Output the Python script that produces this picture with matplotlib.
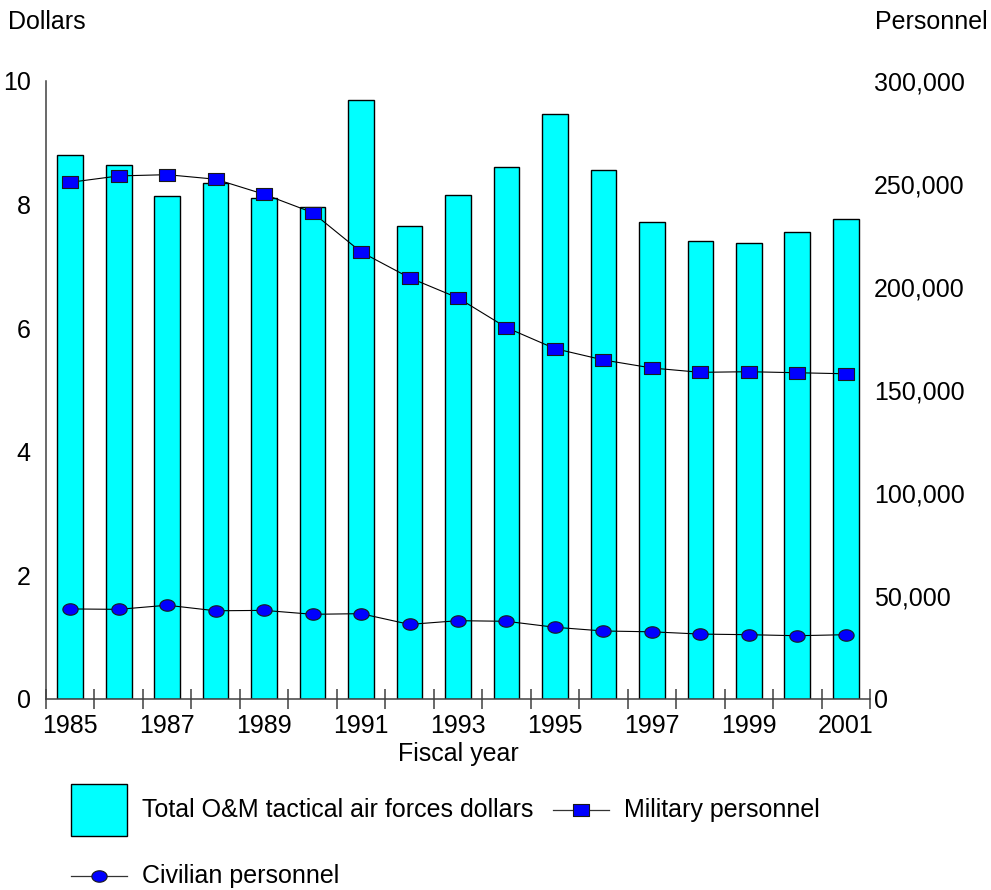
import numpy as np
import matplotlib.pyplot as plt
from matplotlib.patches import Patch
from matplotlib.lines import Line2D
from matplotlib.legend_handler import HandlerLine2D
from matplotlib.ticker import FuncFormatter

plt.rcParams['font.family'] = ['Liberation Sans', 'DejaVu Sans']

# Datos
years = list(range(1985, 2002))
dollars = [8.80, 8.64, 8.13, 8.35, 8.10, 7.96, 9.68, 7.65, 8.15, 8.61,
           9.46, 8.56, 7.71, 7.41, 7.37, 7.55, 7.77]
military = [250700, 253800, 254400, 252200, 244900, 236000, 216900, 204400,
            194600, 180200, 170000, 164500, 160600, 158500, 158800, 158300, 157800]
civilian = [43700, 43500, 45500, 42800, 43000, 41100, 41400, 36200, 38000,
            37700, 34800, 33000, 32600, 31500, 31200, 30700, 31200]

year_labels = [str(y) if (y - 1985) % 2 == 0 else '' for y in years]

FS = 18
AXC = '#404040'

# marcadores rectangulares y elípticos (más anchos que altos)
rect = [(-1, -0.78), (1, -0.78), (1, 0.78), (-1, 0.78), (-1, -0.78)]
t = np.linspace(0, 2 * np.pi, 60)
ellipse = list(zip(np.cos(t), 0.75 * np.sin(t)))


# línea de la leyenda centrada en la altura del rectángulo
class CenteredLine(HandlerLine2D):
    def create_artists(self, legend, orig_handle, xdescent, ydescent,
                       width, height, fontsize, trans):
        arts = super().create_artists(legend, orig_handle, xdescent, ydescent,
                                      width, height, fontsize, trans)
        for a in arts:
            a.set_ydata(np.full_like(a.get_xdata(), height / 2 - ydescent, dtype=float))
        return arts


fig = plt.figure(figsize=(9.91, 8.9), dpi=100)
ax = fig.add_axes([46 / 991, 191 / 890, 824 / 991, 618.3 / 890])
x = np.arange(len(years))

ax.bar(x, dollars, width=0.53, color='#00FFFF', edgecolor='black', linewidth=1.0)
ax.set_xlim(-0.5, len(years) - 0.5)
ax.set_ylim(0, 10)
ax.set_yticks([0, 2, 4, 6, 8, 10])
ax.tick_params(axis='y', length=0, labelsize=FS, pad=11)

# ticks en los límites de categoría, etiquetas centradas
ax.set_xticks(np.arange(-0.5, len(years)), labels=[])
ax.set_xticks(x, labels=year_labels, minor=True)
ax.tick_params(axis='x', which='major', direction='inout', length=15,
               width=1.1, color=AXC)
ax.tick_params(axis='x', which='minor', length=0, labelsize=FS, pad=11)
ax.set_xlabel('Fiscal year', fontsize=FS, labelpad=3)

for s in ['top', 'right']:
    ax.spines[s].set_visible(False)
for s in ['left', 'bottom']:
    ax.spines[s].set_color(AXC)
    ax.spines[s].set_linewidth(1.1)

ax2 = ax.twinx()
ax2.plot(x, military, color='black', linewidth=0.8, marker=rect, markersize=11.5,
         markerfacecolor='#0000FF', markeredgecolor='#1a1a1a', markeredgewidth=0.8)
ax2.plot(x, civilian, color='black', linewidth=0.8, marker=ellipse, markersize=11,
         markerfacecolor='#0000FF', markeredgecolor='#1a1a1a', markeredgewidth=0.8)
ax2.set_ylim(0, 300000)
ax2.set_yticks([0, 50000, 100000, 150000, 200000, 250000, 300000])
ax2.yaxis.set_major_formatter(FuncFormatter(lambda v, p: f'{int(v):,}'))
ax2.tick_params(axis='y', length=0, labelsize=FS, pad=3)
for s in ['top', 'right', 'left', 'bottom']:
    ax2.spines[s].set_visible(False)

fig.text(8 / 991, 1 - 22 / 890, 'Dollars', fontsize=FS, ha='left', va='center')
fig.text(988 / 991, 1 - 22 / 890, 'Personnel', fontsize=FS, ha='right', va='center')

handles = [
    Patch(facecolor='#00FFFF', edgecolor='black', linewidth=1.0),
    Line2D([], [], color='#333333', linewidth=0.9, marker=ellipse, markersize=11,
           markerfacecolor='#0000FF', markeredgecolor='#1a1a1a', markeredgewidth=0.8),
    Line2D([], [], color='#333333', linewidth=0.9, marker=rect, markersize=11.5,
           markerfacecolor='#0000FF', markeredgecolor='#1a1a1a', markeredgewidth=0.8),
]
labels = ['Total O&M tactical air forces dollars', 'Civilian personnel', 'Military personnel']
fig.legend(handles, labels, loc='upper left', bbox_to_anchor=(71 / 991, 1 - 784 / 890),
           ncol=2, frameon=False, fontsize=FS, handlelength=2.24, handleheight=2.82,
           handletextpad=0.6, columnspacing=0.8, labelspacing=0.56,
           borderpad=0, borderaxespad=0, handler_map={Line2D: CenteredLine()})

fig.savefig('out.png', dpi=100)
